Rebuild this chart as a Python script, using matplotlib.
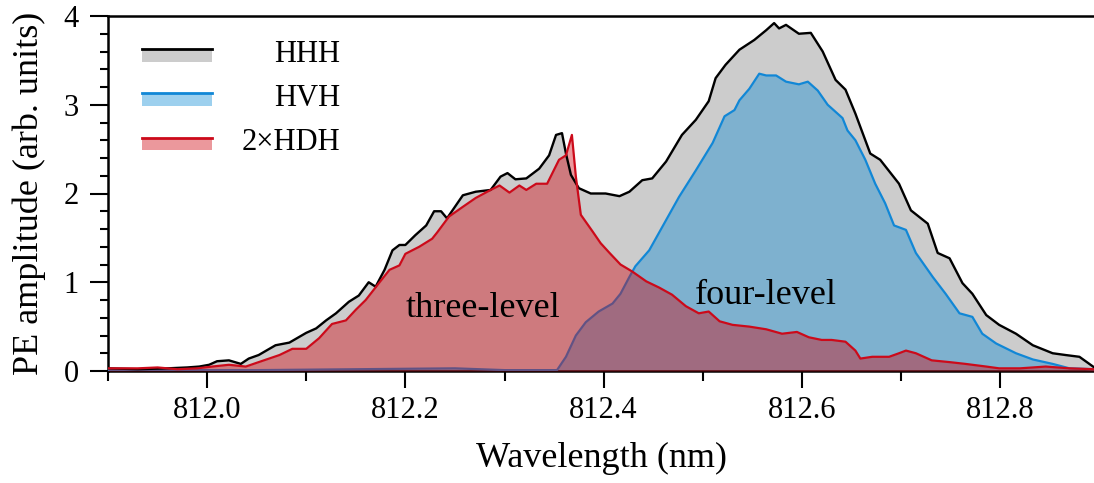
import matplotlib
matplotlib.use('Agg')
import matplotlib.pyplot as plt
from matplotlib.legend_handler import HandlerBase
from matplotlib.patches import Rectangle
from matplotlib.lines import Line2D
from matplotlib.ticker import MultipleLocator, FormatStrFormatter

plt.rcParams['font.family'] = ['Liberation Serif', 'DejaVu Serif']

# HHH (black line, gray fill)
hhh_x = [811.90, 811.93, 811.96, 811.98, 811.992, 812.002, 812.01, 812.022, 812.034, 812.042,
         812.052, 812.069, 812.083, 812.10, 812.11, 812.12, 812.13, 812.143, 812.153, 812.163,
         812.17, 812.179, 812.187, 812.194, 812.20, 812.21, 812.221, 812.229, 812.236, 812.242,
         812.258, 812.271, 812.286, 812.296, 812.303, 812.311, 812.322, 812.335, 812.345, 812.352,
         812.358, 812.362, 812.367, 812.375, 812.387, 812.402, 812.416, 812.426, 812.439, 812.449,
         812.463, 812.479, 812.493, 812.506, 812.513, 812.523, 812.537, 812.552, 812.564, 812.572,
         812.577, 812.584, 812.597, 812.609, 812.621, 812.634, 812.644, 812.654, 812.669, 812.679,
         812.698, 812.71, 812.727, 812.737, 812.749, 812.762, 812.772, 812.786, 812.799, 812.816,
         812.833, 812.853, 812.866, 812.88, 812.895]
hhh_y = [0.03, 0.02, 0.03, 0.04, 0.05, 0.07, 0.11, 0.12, 0.08, 0.14,
         0.18, 0.29, 0.32, 0.43, 0.48, 0.57, 0.65, 0.78, 0.85, 1.00,
         0.95, 1.14, 1.36, 1.42, 1.42, 1.53, 1.64, 1.80, 1.80, 1.72,
         1.98, 2.02, 2.04, 2.19, 2.23, 2.16, 2.17, 2.28, 2.43, 2.66,
         2.68, 2.45, 2.21, 2.06, 2.00, 2.00, 1.97, 2.02, 2.15, 2.17,
         2.36, 2.66, 2.83, 3.04, 3.30, 3.45, 3.62, 3.73, 3.84, 3.92,
         3.86, 3.90, 3.80, 3.81, 3.60, 3.28, 3.17, 2.90, 2.45, 2.38,
         2.11, 1.81, 1.66, 1.33, 1.27, 0.99, 0.87, 0.63, 0.52, 0.42,
         0.29, 0.20, 0.18, 0.16, 0.04]

# HVH (blue line, blue fill)
hvh_x = [811.90, 811.95, 812.05, 812.15, 812.25, 812.30, 812.353, 812.362, 812.372, 812.382,
         812.395, 812.409, 812.417, 812.426, 812.432, 812.446, 812.459, 812.476, 812.493, 812.51,
         812.522, 812.532, 812.537, 812.547, 812.557, 812.564, 812.574, 812.584, 812.597, 812.606,
         812.616, 812.626, 812.641, 812.646, 812.654, 812.664, 812.674, 812.684, 812.693, 812.705,
         812.715, 812.732, 812.745, 812.759, 812.772, 812.782, 812.796, 812.816, 812.833, 812.853,
         812.87, 812.895]
hvh_y = [0.01, 0.01, 0.01, 0.02, 0.03, 0.01, 0.01, 0.16, 0.40, 0.55,
         0.67, 0.76, 0.87, 1.06, 1.18, 1.36, 1.62, 1.96, 2.26, 2.57,
         2.87, 2.94, 3.05, 3.18, 3.35, 3.33, 3.33, 3.26, 3.23, 3.26,
         3.16, 3.00, 2.85, 2.71, 2.60, 2.38, 2.11, 1.89, 1.64, 1.59,
         1.33, 1.06, 0.87, 0.65, 0.61, 0.42, 0.31, 0.20, 0.13, 0.08,
         0.03, 0.02]

# 2xHDH (red line, red fill)
hdh_x = [811.90, 811.93, 811.95, 811.97, 811.99, 812.005, 812.022, 812.039, 812.052, 812.073,
         812.086, 812.10, 812.113, 812.126, 812.14, 812.15, 812.16, 812.174, 812.184, 812.194,
         812.20, 812.214, 812.227, 812.232, 812.244, 812.258, 812.271, 812.286, 812.295, 812.305,
         812.315, 812.322, 812.332, 812.343, 812.355, 812.362, 812.368, 812.372, 812.377, 812.389,
         812.397, 812.406, 812.417, 812.429, 812.443, 812.456, 812.469, 812.483, 812.496, 812.506,
         812.517, 812.53, 812.547, 812.564, 812.58, 812.595, 812.607, 812.62, 812.63, 812.644,
         812.654, 812.659, 812.671, 812.688, 812.698, 812.705, 812.715, 812.731, 812.749, 812.765,
         812.786, 812.799, 812.82, 812.846, 812.87, 812.895]
hdh_y = [0.03, 0.03, 0.04, 0.02, 0.03, 0.05, 0.07, 0.05, 0.10, 0.18,
         0.25, 0.25, 0.37, 0.53, 0.57, 0.69, 0.80, 1.00, 1.14, 1.19,
         1.32, 1.40, 1.49, 1.56, 1.74, 1.85, 1.95, 2.04, 2.09, 2.01,
         2.09, 2.04, 2.11, 2.11, 2.38, 2.43, 2.66, 2.19, 1.76, 1.57,
         1.44, 1.33, 1.20, 1.12, 1.01, 0.94, 0.86, 0.73, 0.65, 0.67,
         0.56, 0.52, 0.50, 0.47, 0.42, 0.44, 0.38, 0.35, 0.35, 0.33,
         0.23, 0.14, 0.16, 0.16, 0.20, 0.23, 0.20, 0.12, 0.10, 0.08,
         0.05, 0.03, 0.03, 0.05, 0.03, 0.02]

labels = ['HHH', 'HVH', '2×HDH']
line_colors = ['#000000', '#1187d6', '#cc0a1a']
fill_colors = ['#cccccc', (0.04, 0.54, 0.84, 0.4), (0.82, 0.04, 0.08, 0.42)]


class Swatch:
    def __init__(self, face, edge):
        self.face = face
        self.edge = edge


class SwatchHandler(HandlerBase):
    # filled box with the line along its top edge
    def create_artists(self, legend, orig_handle, xdescent, ydescent, width, height, fontsize, trans):
        x0 = -xdescent
        y0 = -ydescent
        rect = Rectangle((x0, y0 + 0.0 * height), width, 0.6 * height,
                         facecolor=orig_handle.face, edgecolor='none', transform=trans)
        line = Line2D([x0, x0 + width], [y0 + 0.6 * height] * 2, color=orig_handle.edge,
                      lw=2.0, transform=trans)
        return [rect, line]


fig = plt.figure(figsize=(10.94, 4.83), dpi=100)
ax = fig.add_axes([108 / 1094, 1 - 371 / 483, 986 / 1094, 355 / 483])

ax.fill_between(hhh_x, hhh_y, 0, color=fill_colors[0], lw=0, zorder=1)
ax.fill_between(hvh_x, hvh_y, 0, color=fill_colors[1], lw=0, zorder=2)
ax.plot(hvh_x, hvh_y, color=line_colors[1], lw=1.6, zorder=3)
ax.fill_between(hdh_x, hdh_y, 0, color=fill_colors[2], lw=0, zorder=4)
ax.plot(hhh_x, hhh_y, color=line_colors[0], lw=1.7, zorder=5)
ax.plot(hdh_x, hdh_y, color=line_colors[2], lw=1.6, zorder=6)

ax.text(812.278, 0.61, 'three-level', fontsize=26, ha='center', va='baseline', zorder=7)
ax.text(812.564, 0.755, 'four-level', fontsize=26, ha='center', va='baseline', zorder=7)

ax.set_xlim(811.9, 811.9 + 986 / 991.25)
ax.set_ylim(0, 4)

ax.xaxis.set_major_locator(MultipleLocator(0.2))
ax.xaxis.set_minor_locator(MultipleLocator(0.1))
ax.xaxis.set_major_formatter(FormatStrFormatter('%.1f'))
ax.yaxis.set_major_locator(MultipleLocator(1))
ax.yaxis.set_minor_locator(MultipleLocator(0.2))

ax.tick_params(axis='x', which='major', direction='out', length=12, width=1.5, labelsize=22, pad=6)
ax.tick_params(axis='x', which='minor', direction='out', length=7, width=1.5)
ax.tick_params(axis='y', which='major', direction='out', length=13, width=1.5, labelsize=22, pad=8)
ax.tick_params(axis='y', which='minor', direction='out', length=6, width=1.5)

for side in ['left', 'bottom', 'top']:
    ax.spines[side].set_linewidth(1.8)
ax.spines['right'].set_visible(False)

ax.set_xlabel('Wavelength (nm)', fontsize=26)
ax.set_ylabel('PE amplitude (arb. units)', fontsize=26)
ax.xaxis.set_label_coords(0.5, -0.2)
ax.yaxis.set_label_coords(-0.063, 0.5)

handles = [Swatch(f, e) for f, e in zip(fill_colors, line_colors)]
leg = ax.legend(handles, labels, handler_map={Swatch: SwatchHandler()}, loc='upper left',
                bbox_to_anchor=(0.013, 0.993), frameon=False, fontsize=22,
                handlelength=2.3, handletextpad=0.95, labelspacing=0.5,
                borderaxespad=0.0, borderpad=0.7)

# right-align the legend labels
fig.canvas.draw()
rows = leg._legend_handle_box.get_children()[0].get_children()
widths = [t.get_window_extent().width for t in leg.get_texts()]
for row, w in zip(rows, widths):
    row.sep += (max(widths) - w) * 72 / fig.dpi

fig.savefig('out.png', dpi=100)
